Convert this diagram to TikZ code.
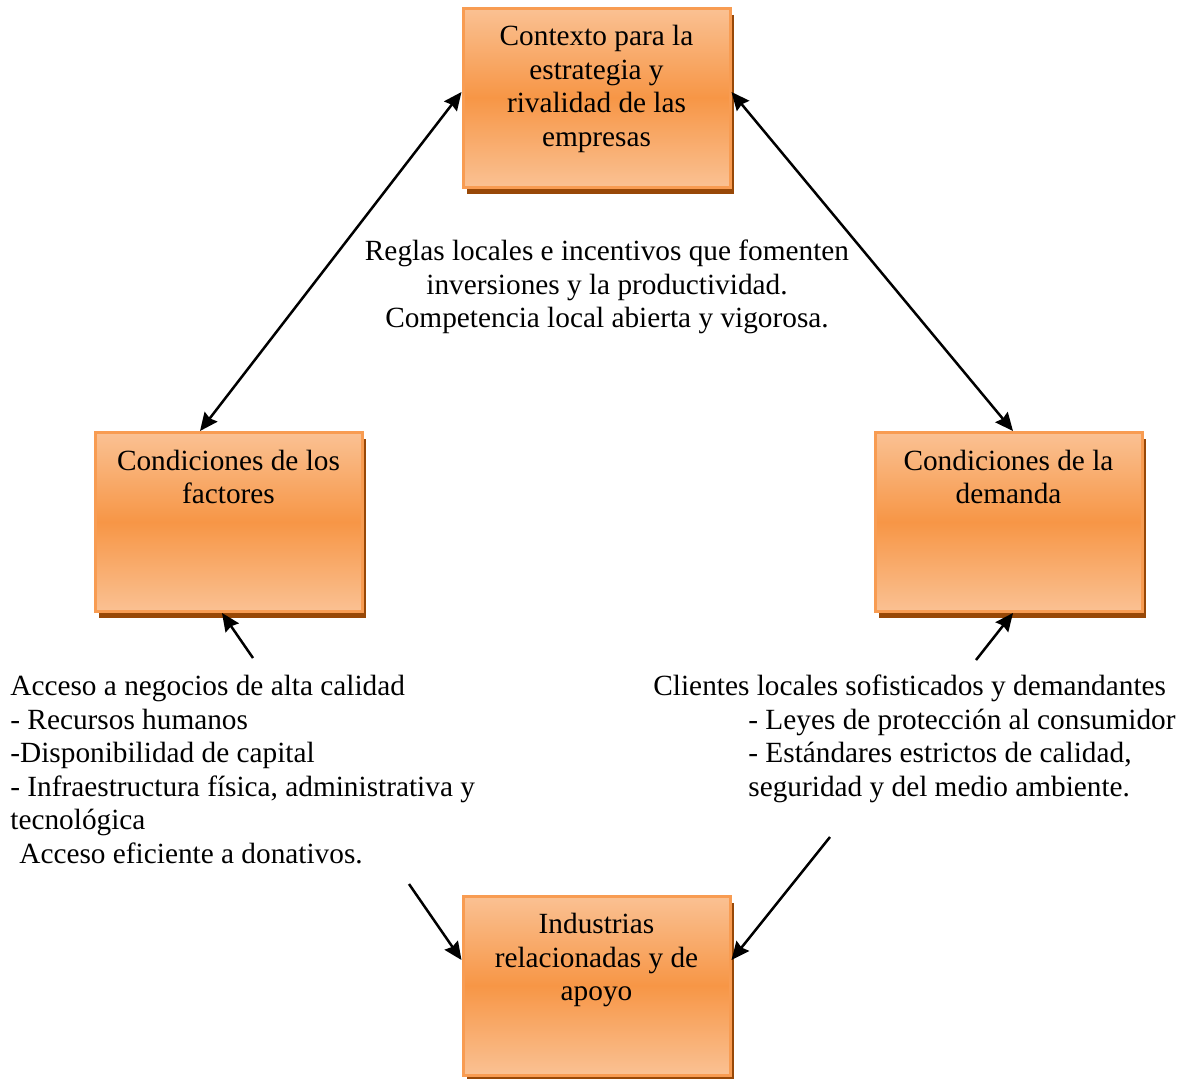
\documentclass[tikz,border=0pt]{standalone}
\usepackage{fontspec}
\setmainfont{Liberation Serif}
\usetikzlibrary{arrows.meta,calc,shadows}
\definecolor{Peach}{HTML}{FAC193}
\definecolor{Orange}{HTML}{F79646}
\definecolor{Rim}{HTML}{F89C52}
\definecolor{Umber}{HTML}{984807}
\definecolor{Ink}{HTML}{000000}
\newcommand\boxlines[1]{\parbox[c][75.5pt][t]{125pt}{\centering\strut#1}}
\tikzset{
  force/.style={draw=Rim,line width=1.5pt,top color=Peach,bottom color=Peach,middle color=Orange,minimum width=133.5pt,minimum height=89.5pt,inner xsep=4pt,inner ysep=7pt,font=\fontsize{14.65pt}{16.8pt}\selectfont,text=Ink,general shadow={fill=Umber,shadow xshift=1.75pt,shadow yshift=-3.25pt}},
  note/.style={inner sep=0pt,font=\fontsize{14.65pt}{16.8pt}\selectfont,text=Ink},
  arr/.style={-{Stealth[length=9pt,width=8pt,inset=1pt]},draw=Ink,line width=1.25pt},
  biarr/.style={{Stealth[length=9pt,width=8pt,inset=1pt]}-{Stealth[length=9pt,width=8pt,inset=1pt]},draw=Ink,line width=1.25pt}
}

\begin{document}
\begin{tikzpicture}[x=0.5pt,y=-0.5pt]
  \useasboundingbox (0,0) rectangle (1186,1078);
  % the four forces
  \node[force] (ctx) at (596.5,97.5) {\boxlines{Contexto para la\\estrategia y\\rivalidad de las\\empresas}};
  \node[force] (fac) at (228.5,522) {\boxlines{Condiciones de los\\factores}};
  \node[force] (dem) at (1008.5,522) {\boxlines{Condiciones de la\\demanda}};
  \node[force] (ind) at (596.5,985.5) {\boxlines{Industrias\\relacionadas y de\\apoyo}};
  % notes
  \node[note,align=center,anchor=north] (rules) at (607,236.5) {\strut Reglas locales e incentivos que fomenten\\inversiones y la productividad.\\Competencia local abierta y vigorosa.};
  \node[note,align=left,anchor=north west] (access) at (10,671.5) {\strut Acceso a negocios de alta calidad\\- Recursos humanos\\-Disponibilidad de capital\\- Infraestructura física, administrativa y\\tecnológica\\\hspace*{4.5pt}Acceso eficiente a donativos.};
  \node[note,align=left,anchor=north west] (clients) at (653,671.5) {\strut Clientes locales sofisticados y demandantes\\\hspace*{47.5pt}- Leyes de protección al consumidor\\\hspace*{47.5pt}- Estándares estrictos de calidad,\\\hspace*{47.5pt}seguridad y del medio ambiente.};
  % free ends
  \coordinate (facfoot) at (253,658);
  \coordinate (demfoot) at (976,660);
  \coordinate (indleft) at (409,884);
  \coordinate (indright) at (830,837);
  % links
  \draw[biarr] ($(ctx.west)+(0,-5.5)$) -- ($(fac.north)+(-28.5,0)$);
  \draw[biarr] ($(ctx.east)+(0,-5.5)$) -- ($(dem.north)+(4.5,0)$);
  \draw[arr] (facfoot) -- ($(fac.south)+(-6.5,0)$);
  \draw[arr] (demfoot) -- ($(dem.south)+(4.5,0)$);
  \draw[arr] (indleft) -- ($(ind.west)+(0,-25.5)$);
  \draw[arr] (indright) -- ($(ind.east)+(0,-25.5)$);
\end{tikzpicture}
\end{document}
